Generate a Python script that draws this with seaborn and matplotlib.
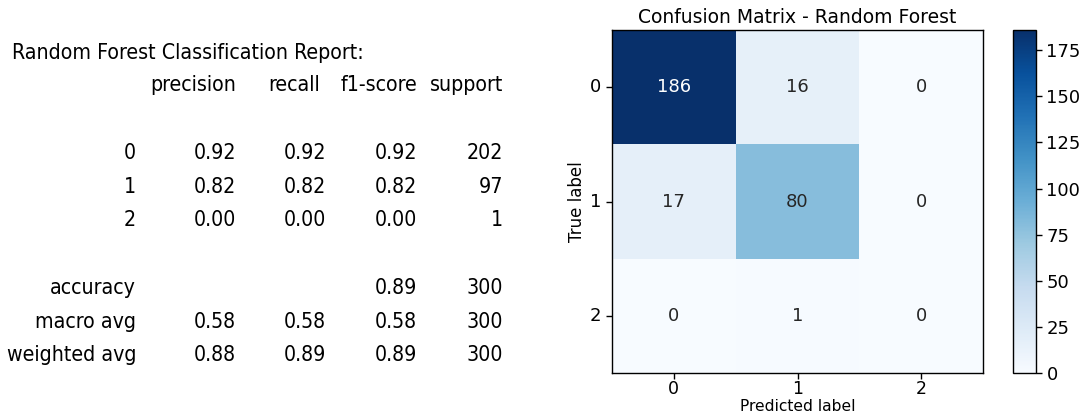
import numpy as np
import matplotlib
matplotlib.use("Agg")
import matplotlib.pyplot as plt
import seaborn as sns

# Confusion matrix counts (rows: true label, columns: predicted label)
class_labels = ["0", "1", "2"]
conf_matrix = [
    [186, 16, 0],
    [17, 80, 0],
    [0, 1, 0],
]

# Classification report values
report_columns = ["precision", "recall", "f1-score", "support"]
report_rows = ["0", "1", "2"]
precision = [0.92, 0.82, 0.00]
recall = [0.92, 0.82, 0.00]
f1_score = [0.92, 0.82, 0.00]
support = [202, 97, 1]
accuracy = 0.89
total_support = 300
macro_avg = [0.58, 0.58, 0.58]
weighted_avg = [0.88, 0.89, 0.89]

fig = plt.figure(figsize=(10.86, 4.16), dpi=100)

# ---- classification report as text ----
W, H = 1086, 416
def fx(px):
    return px / W
def fy(py):
    return 1 - py / H

rep_font = dict(family="DejaVu Sans", stretch="condensed", fontsize=15.3, color="black")
fig.text(fx(12), fy(53), "Random Forest Classification Report:", ha="left", va="center", **rep_font)

label_right = 136
header_right = [236, 320, 417, 503]
value_right = [236, 326, 417, 503]
for name, x in zip(report_columns, header_right):
    fig.text(fx(x), fy(85), name, ha="right", va="center", **rep_font)

row_y = [153, 187, 220]
for i, lab in enumerate(report_rows):
    vals = [f"{precision[i]:.2f}", f"{recall[i]:.2f}", f"{f1_score[i]:.2f}", f"{support[i]}"]
    fig.text(fx(label_right), fy(row_y[i]), lab, ha="right", va="center", **rep_font)
    for v, x in zip(vals, value_right):
        fig.text(fx(x), fy(row_y[i]), v, ha="right", va="center", **rep_font)

summary = [
    ("accuracy", ["", "", f"{accuracy:.2f}", f"{total_support}"], 288),
    ("macro avg", [f"{v:.2f}" for v in macro_avg] + [f"{total_support}"], 322),
    ("weighted avg", [f"{v:.2f}" for v in weighted_avg] + [f"{total_support}"], 355),
]
for lab, vals, y in summary:
    fig.text(fx(label_right), fy(y), lab, ha="right", va="center", **rep_font)
    for v, x in zip(vals, value_right):
        if v:
            fig.text(fx(x), fy(y), v, ha="right", va="center", **rep_font)

# ---- confusion matrix heatmap ----
ax = fig.add_axes([612 / W, (H - 373) / H, 371 / W, 343 / H])
cax = fig.add_axes([1013 / W, (H - 373) / H, 23 / W, 343 / H])

sns.heatmap(np.array(conf_matrix), annot=True, fmt="d", cmap="Blues",
            xticklabels=class_labels, yticklabels=class_labels,
            ax=ax, cbar_ax=cax, annot_kws={"fontsize": 13})

for s in ax.spines.values():
    s.set_visible(True)
    s.set_color("black")
    s.set_linewidth(1.0)
ax.tick_params(axis="y", labelsize=13, length=4, width=1)
ax.tick_params(axis="x", labelsize=12.5, length=4, width=1, pad=1)
ax.set_yticklabels(class_labels, rotation=0)
ax.set_xticklabels(class_labels, rotation=0)
ax.set_title("Confusion Matrix - Random Forest", fontsize=13.5, pad=5)
ax.set_xlabel("Predicted label", fontsize=11.2)
ax.xaxis.set_label_coords(0.5, -0.075)
ax.set_ylabel("True label", fontsize=12, labelpad=3)

cbar = ax.collections[0].colorbar
cbar.outline.set_visible(True)
cbar.outline.set_linewidth(1.0)
cbar.outline.set_edgecolor("black")
cbar.set_ticks([0, 25, 50, 75, 100, 125, 150, 175])
cax.tick_params(labelsize=13, length=4, width=1)

fig.savefig("out.png", dpi=100)
